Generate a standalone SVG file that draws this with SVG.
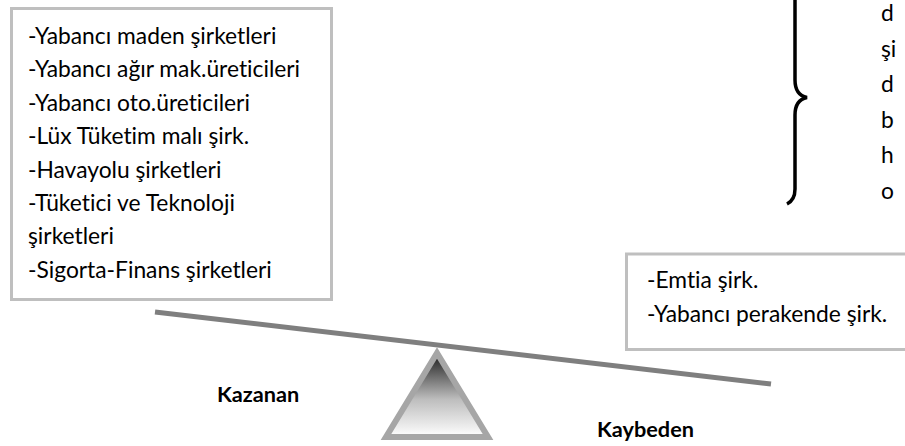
<svg xmlns="http://www.w3.org/2000/svg" width="905" height="446" viewBox="0 0 905 446">
  <style>
    .box { fill: #ffffff; stroke: #bfbfbf; stroke-width: 3; }
    .t { font-family: Lato, "Open Sans", "Liberation Sans", sans-serif; font-size: 22.8px; fill: #000000; font-variant-ligatures: none; }
    .b { font-family: Lato, "Open Sans", "Liberation Sans", sans-serif; font-size: 21.7px; font-weight: bold; fill: #000000; }
  </style>
  <defs>
    <linearGradient id="fulcrumGrad" x1="0" y1="0" x2="0" y2="1">
      <stop offset="0" stop-color="#1a1a1a"/>
      <stop offset="0.55" stop-color="#bdbdbd"/>
      <stop offset="1" stop-color="#ffffff"/>
    </linearGradient>
  </defs>
  <rect width="905" height="446" fill="#ffffff"/>

  <g id="winners">
    <rect class="box" x="11.5" y="8.5" width="320" height="291"/>
    <text class="t" x="28" y="44">-Yabancı maden şirketleri</text>
    <text class="t" x="28" y="77.4">-Yabancı ağır mak.üreticileri</text>
    <text class="t" x="28" y="110.8">-Yabancı oto.üreticileri</text>
    <text class="t" x="28" y="144.2">-Lüx Tüketim malı şirk.</text>
    <text class="t" x="28" y="177.6">-Havayolu şirketleri</text>
    <text class="t" x="28" y="211">-Tüketici ve Teknoloji</text>
    <text class="t" x="28" y="244.4">şirketleri</text>
    <text class="t" x="28" y="277.8">-Sigorta-Finans şirketleri</text>
  </g>

  <g id="losers">
    <rect class="box" x="626.5" y="254" width="290" height="95.5"/>
    <text class="t" x="647" y="288">-Emtia şirk.</text>
    <text class="t" x="647" y="322">-Yabancı perakende şirk.</text>
  </g>

  <g id="brace-note">
    <path d="M795,-5 L795,80 Q795,95 807,97.5 Q795,100 795,115 L795,189 Q795,200 787,204" fill="none" stroke="#000000" stroke-width="3.5"/>
    <text class="t" x="881" y="21">d</text>
    <text class="t" x="881" y="56.5">şi</text>
    <text class="t" x="881" y="92">d</text>
    <text class="t" x="881" y="127.5">b</text>
    <text class="t" x="881" y="163">h</text>
    <text class="t" x="881" y="198.5">o</text>
  </g>

  <g id="connectors">
    <line x1="155" y1="312" x2="771" y2="384" stroke="#7f7f7f" stroke-width="5"/>
  </g>

  <g id="fulcrum">
    <polygon points="437,353 386,437 488,437" fill="url(#fulcrumGrad)" stroke="#a6a6a6" stroke-width="6" stroke-linejoin="miter"/>
  </g>

  <g id="labels">
    <text class="b" x="217" y="402">Kazanan</text>
    <text class="b" x="597" y="437">Kaybeden</text>
  </g>
</svg>
